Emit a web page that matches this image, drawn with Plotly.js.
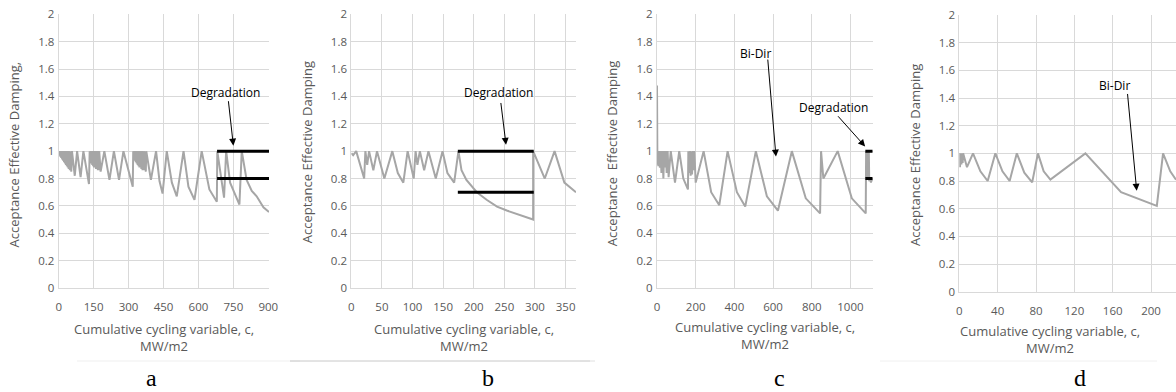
<!DOCTYPE html>
<html>
<head>
<meta charset="utf-8">
<script src="https://cdn.plot.ly/plotly-3.0.1.min.js"></script>
<style>html,body{margin:0;padding:0;background:#fff;}#chart{width:1176px;height:392px;}</style>
</head>
<body>
<div id="chart"></div>
<script>
// ---------- data ----------
const aX = [0,3,4,7,8,11,12,15,16,19,20,23,24,27,28,31,32,35,36,39,40,43,44,48,49,54,57,69,79,94,106,130,133,136,137,140,141,144,145,148,149,152,153,156,157,160,161,164,165,168,169,173,174,180,196,218,237,259,278,318,320,323,324,327,328,331,332,335,336,339,340,343,344,347,348,351,352,355,356,360,361,366,367,374,376,396,418,433,446,464,486,507,536,557,583,614,647,679,681,695,710,719,736,776,786,807,829,850,879,903];
const aY = [1,0.97,1,0.96,1,0.95,1,0.94,1,0.93,1,0.92,1,0.91,1,0.90,1,0.89,1,0.88,1,0.87,1,0.86,1,0.85,1,0.82,1,0.81,1,0.76,1,0.93,1,0.91,1,0.90,1,0.89,1,0.88,1,0.88,1,0.87,1,0.87,1,0.86,1,0.86,1,0.85,1,0.79,1,0.79,1,0.74,1,0.95,1,0.93,1,0.92,1,0.91,1,0.90,1,0.89,1,0.88,1,0.88,1,0.87,1,0.86,1,0.86,1,0.85,1,0.79,1,0.78,0.69,1,0.77,0.67,1,0.74,0.645,1,0.72,0.63,1,0.85,0.66,1,0.77,0.61,1,0.79,0.71,0.67,0.59,0.555];
const aDegX = [680,903];
const aDegHi = [1,1];
const aDegLo = [0.8,0.8];

const bX = [0,3,8,21,23,26,29,36,42,54,67,76,85,92,102,105,108,112,119,126,138,149,157,168,175,180,188,205,221,238,254,270,286,297,297,316,332,348,367];
const bY = [0.985,0.97,1,0.80,1,0.90,1,0.86,1,0.80,1,0.84,0.77,1,0.80,1,0.90,1,0.86,1,0.80,1,0.84,0.77,1,0.86,0.79,0.70,0.645,0.595,0.566,0.54,0.517,0.50,1,0.80,1,0.77,0.70];
const bDegX = [174,298];
const bDegHi = [1,1];
const bDegLo = [0.7,0.7];

const cX = [0,2,4,7,10,15,18,23,28,33,37,41,45,50,55,60,71,93,115,136,160,162,166,170,174,177,181,186,190,193,200,241,280,322,365,413,456,511,568,625,697,769,843,848,860,934,1007,1079,1081,1083,1085,1093,1095,1097,1102,1106,1110,1115];
const cY = [1.48,0.90,1,0.89,1,0.88,1,0.84,1,0.80,1,0.88,1,0.84,1,0.81,1,0.77,1,0.80,0.72,1,0.84,1,0.82,1,0.83,1,0.86,1,0.77,1,0.70,0.605,1,0.70,0.595,1,0.67,0.565,1,0.655,0.545,1,0.80,1,0.655,0.545,1,0.80,1,0.80,1,0.78,0.80,0.77,0.80,0.78];
const cDegX = [1077,1115];
const cDegHi = [1,1];
const cDegLo = [0.8,0.8];

const dX = [0,0.7,1.5,2.2,3,3.5,4,8,14.3,22,29.6,37.6,45,52.5,60,67.8,76,82,88,95,131.5,168.7,206,212.5,220,226];
const dY = [1,0.9,1,0.92,1,0.93,1,0.9,1,0.87,0.80,1,0.87,0.80,1,0.86,0.79,1,0.87,0.81,1,0.72,0.62,1,0.87,0.81];

const yTitles = ["Acceptance Effective Damping,","Acceptance Effective Damping","Acceptance  Effective Damping","Acceptance Effective Damping"];
const xTitle = "Cumulative cycling variable, c,<br>MW/m2";
const panelLabels = ["a","b","c","d"];

// ---------- layout helpers ----------
const W = 1176, H = 392;
const px = (a,b) => [a/W, b/W];
const py = (top,bottom) => [(H-bottom)/H, (H-top)/H];
const FONT = "Open Sans, sans-serif";
const GRAY = "#595959";
const LINE = "#A6A6A6";

function series(x,y,xa,ya){
  return {x:x,y:y,xaxis:xa,yaxis:ya,mode:"lines",line:{color:LINE,width:2},hoverinfo:"skip",showlegend:false};
}
function black(x,y,xa,ya){
  return {x:x,y:y,xaxis:xa,yaxis:ya,mode:"lines",line:{color:"#000",width:3},hoverinfo:"skip",showlegend:false};
}
const traces = [
  series(aX,aY,"x","y"), black(aDegX,aDegHi,"x","y"), black(aDegX,aDegLo,"x","y"),
  series(bX,bY,"x2","y2"), black(bDegX,bDegHi,"x2","y2"), black(bDegX,bDegLo,"x2","y2"),
  series(cX,cY,"x3","y3"), black(cDegX,cDegHi,"x3","y3"), black(cDegX,cDegLo,"x3","y3"),
  series(dX,dY,"x4","y4")
];

function xax(dom,range,dtick,anchor){
  return {domain:dom,range:range,dtick:dtick,tick0:0,anchor:anchor,showgrid:true,gridcolor:"#D9D9D9",gridwidth:1,
    zeroline:false,showline:true,linecolor:"#D9D9D9",linewidth:1,ticks:"outside",ticklen:8,tickcolor:"rgba(0,0,0,0)",
    tickfont:{family:FONT,size:11.5,color:GRAY},fixedrange:true};
}
function yax(dom,anchor){
  return {domain:dom,range:[0,2],dtick:0.2,tick0:0,anchor:anchor,showgrid:true,gridcolor:"#D9D9D9",gridwidth:1,
    zeroline:false,showline:true,linecolor:"#D9D9D9",linewidth:1,ticks:"outside",ticklen:1,tickcolor:"rgba(0,0,0,0)",
    tickfont:{family:FONT,size:11.5,color:GRAY},fixedrange:true};
}

const panels = [
  {l:58.7,r:269,t:14.3,b:288,xt:337,yt:{x:13,y:154.5},lab:151},
  {l:351.3,r:576,t:14.3,b:288,xt:337,yt:{x:306.7,y:152.5},lab:488},
  {l:657,r:872.7,t:14.3,b:288,xt:335,yt:{x:612.3,y:153},lab:779},
  {l:959.3,r:1176,t:15,b:291.7,xt:339,yt:{x:915,y:155},lab:1080}
];

const layout = {
  width:W,height:H,margin:{l:0,r:0,t:0,b:0},paper_bgcolor:"#fff",plot_bgcolor:"#fff",showlegend:false,
  xaxis: xax(px(panels[0].l,panels[0].r),[0,903],150,"y"),
  yaxis: yax(py(panels[0].t,panels[0].b),"x"),
  xaxis2: xax(px(panels[1].l,panels[1].r),[0,367],50,"y2"),
  yaxis2: yax(py(panels[1].t,panels[1].b),"x2"),
  xaxis3: xax(px(panels[2].l,panels[2].r),[0,1115],200,"y3"),
  yaxis3: yax(py(panels[2].t,panels[2].b),"x3"),
  xaxis4: xax([panels[3].l/W,1],[0,226],40,"y4"),
  yaxis4: yax(py(panels[3].t,panels[3].b),"x4"),
  annotations: [],
  shapes: [
    {type:"line",xref:"paper",yref:"paper",x0:77/W,x1:300/W,y0:(H-361)/H,y1:(H-361)/H,line:{color:"#EFEFEF",width:1}},
    {type:"line",xref:"paper",yref:"paper",x0:290/W,x1:590/W,y0:(H-361)/H,y1:(H-361)/H,line:{color:"#C8C8C8",width:1}},
    {type:"line",xref:"paper",yref:"paper",x0:580/W,x1:595/W,y0:(H-361)/H,y1:(H-361)/H,line:{color:"#E0E0E0",width:1}},
    {type:"line",xref:"paper",yref:"paper",x0:880/W,x1:1157/W,y0:(H-361)/H,y1:(H-361)/H,line:{color:"#F0F0F0",width:1}}
  ]
};

const A = layout.annotations;
panels.forEach((p,i)=>{
  const cx = (p.l + p.r)/2;
  const xc = i===3 ? 1050 : cx;
  A.push({xref:"paper",yref:"paper",x:xc/W,y:(H-p.xt)/H,text:xTitle,showarrow:false,xanchor:"center",yanchor:"middle",font:{family:FONT,size:13,color:GRAY}});
  A.push({xref:"paper",yref:"paper",x:p.yt.x/W,y:(H-p.yt.y)/H,text:yTitles[i],textangle:-90,showarrow:false,xanchor:"center",yanchor:"middle",font:{family:FONT,size:13,color:GRAY}});
  A.push({xref:"paper",yref:"paper",x:p.lab/W,y:(H-378)/H,text:panelLabels[i],showarrow:false,xanchor:"center",yanchor:"middle",font:{family:"Liberation Serif, Times New Roman, serif",size:24,color:"#000"}});
});

function label(xa,ya,x,y,t){
  A.push({xref:xa,yref:ya,x:x,y:y,text:t,showarrow:false,xanchor:"center",yanchor:"middle",font:{family:FONT,size:12,color:"#000"}});
}
function arrow(xa,ya,x0,y0,x1,y1){
  A.push({xref:xa,yref:ya,axref:xa,ayref:ya,ax:x0,ay:y0,x:x1,y:y1,text:"",showarrow:true,arrowhead:2,arrowsize:1.4,arrowwidth:1,arrowcolor:"#000",standoff:0,startstandoff:0});
}
label("x","y",717,1.43,"Degradation");
arrow("x","y",728,1.376,750,1.04);
label("x2","y2",240,1.43,"Degradation");
arrow("x2","y2",244,1.363,252.7,1.046);
label("x3","y3",507,1.712,"Bi-Dir");
arrow("x3","y3",572,1.68,615,0.96);
label("x3","y3",912,1.32,"Degradation");
arrow("x3","y3",929,1.266,1076,1.034);
label("x4","y4",161.4,1.487,"Bi-Dir");
arrow("x4","y4",175.3,1.44,185,0.73);

Plotly.newPlot("chart",traces,layout,{staticPlot:true,displayModeBar:false});
</script>
</body>
</html>
